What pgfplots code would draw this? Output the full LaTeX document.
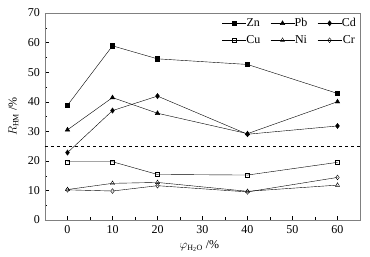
\documentclass[border=0pt]{standalone}
\usepackage{pgfplots}
\pgfplotsset{compat=1.18}
\usepackage{fontspec}
\setmainfont{Liberation Serif}
\begin{document}
\fontsize{12}{14}\selectfont
\begin{tikzpicture}
\useasboundingbox (-45pt,-37pt) rectangle (325pt,220pt);
\begin{axis}[
  at={(0,0)}, anchor=south west,
  scale only axis, width=315pt, height=207pt,
  xmin=-5, xmax=65, ymin=0, ymax=70,
  xtick={0,10,20,30,40,50,60}, ytick={0,10,...,70},
  minor x tick num=1, minor y tick num=1,
  tick align=inside, tick pos=left,
  axis line style={gray}, tick style={black},
  major tick length=4pt, minor tick length=2.5pt,
  ticklabel style={font=\fontsize{12}{14}\selectfont},
  xticklabel style={yshift=-1pt},
  yticklabel style={xshift=-1pt},
  /pgf/number format/assume math mode=true,
  xlabel={$\varphi_{\mathrm{H_2O}}$ /\%},
  ylabel={$R_{\mathrm{HM}}$ /\%},
  xlabel style={at={(axis description cs:0.49,-0.125)}, anchor=center},
  ylabel style={at={(axis description cs:-0.1,0.5)}, anchor=center},
  legend columns=3,
  legend style={draw=none, fill=none, at={(1.0,0.995)}, anchor=north east,
    font=\fontsize{12}{14}\selectfont, row sep=3pt, inner sep=2pt,
    /tikz/every even column/.append style={column sep=8pt},
    /tikz/every odd column/.append style={column sep=-2pt}},
  legend image code/.code={\draw[#1] (0pt,0pt) -- (24pt,0pt); \draw[#1, only marks] plot coordinates {(12pt,0pt)};},
  every axis plot/.append style={black, thin},
]
\addplot[mark=square*, mark size=2.2pt] coordinates {(0,38.8) (10,58.9) (20,54.5) (40,52.6) (60,42.8)};
\addlegendentry{Zn}
\addplot[mark=triangle*, mark size=2.6pt] coordinates {(0,30.5) (10,41.4) (20,36.1) (40,29.2) (60,40.0)};
\addlegendentry{Pb}
\addplot[mark=diamond*, mark size=2.6pt] coordinates {(0,22.8) (10,37.0) (20,41.9) (40,29.0) (60,31.8)};
\addlegendentry{Cd}
\addplot[mark=square, mark size=2pt, mark options={fill=white}] coordinates {(0,19.7) (10,19.7) (20,15.4) (40,15.2) (60,19.5)};
\addlegendentry{Cu}
\addplot[mark=triangle, mark size=2.4pt, mark options={fill=white}] coordinates {(0,10.3) (10,12.4) (20,12.7) (40,9.7) (60,11.8)};
\addlegendentry{Ni}
\addplot[mark=diamond, mark size=2.4pt, mark options={fill=white}] coordinates {(0,10.2) (10,9.8) (20,11.6) (40,9.5) (60,14.4)};
\addlegendentry{Cr}
\addplot[black, dashed, thin, forget plot] coordinates {(-5,25) (65,25)};
\end{axis}
\end{tikzpicture}
\end{document}
